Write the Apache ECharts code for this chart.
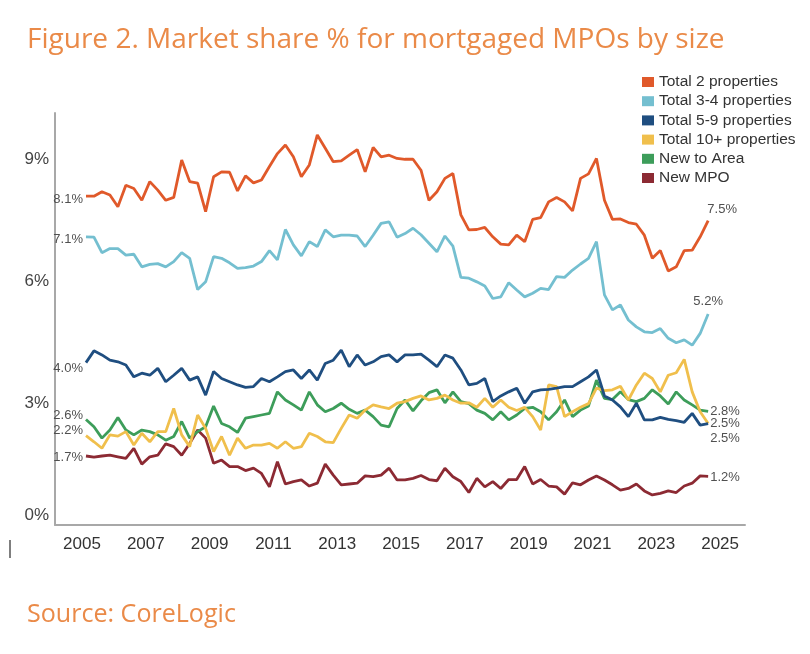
<!DOCTYPE html>
<html><head><meta charset="utf-8">
<script src="https://cdn.jsdelivr.net/npm/echarts@6/dist/echarts.min.js"></script>
<style>html,body{margin:0;padding:0;background:#fff}#c{width:810px;height:654px}</style>
</head><body><div id="c"></div>
<script>
// ---- data (quarterly, 2005 Q1 .. 2024 Q3) ----
const seriesNames = ['Total 2 properties','Total 3-4 properties','Total 5-9 properties','Total 10+ properties','New to Area','New MPO'];
const total2 = [8.1,8.10,8.21,8.13,7.84,8.37,8.29,8.00,8.46,8.25,
 8.00,8.07,8.99,8.46,8.42,7.72,8.58,8.70,8.69,8.23,
 8.60,8.43,8.50,8.83,9.15,9.36,9.07,8.58,8.87,9.61,
 9.28,8.95,8.97,9.11,9.25,8.70,9.30,9.07,9.11,9.03,
 9.01,9.01,8.74,8.00,8.21,8.54,8.66,7.64,7.27,7.28,
 7.33,7.10,6.92,6.90,7.14,6.98,7.53,7.57,7.96,8.07,
 7.96,7.74,8.54,8.65,9.03,8.00,7.53,7.54,7.45,7.41,
 7.14,6.57,6.76,6.26,6.36,6.76,6.77,7.10,7.5];
const total34 = [7.1,7.09,6.71,6.81,6.81,6.65,6.67,6.36,6.42,6.44,
 6.36,6.49,6.71,6.57,5.80,5.99,6.61,6.57,6.46,6.32,
 6.34,6.38,6.49,6.76,6.53,7.28,6.90,6.63,6.98,6.86,
 7.27,7.10,7.14,7.14,7.12,6.86,7.14,7.43,7.47,7.09,
 7.18,7.31,7.15,6.94,6.73,7.12,6.87,6.10,6.08,5.99,
 5.89,5.58,5.62,5.97,5.79,5.62,5.71,5.83,5.80,6.12,
 6.10,6.28,6.43,6.57,6.98,5.67,5.30,5.42,5.05,4.88,
 4.76,4.74,4.84,4.60,4.49,4.56,4.43,4.72,5.2];
const total59 = [4.0,4.29,4.19,4.06,4.02,3.94,3.65,3.74,3.69,3.86,
 3.53,3.69,3.86,3.57,3.65,3.20,3.78,3.61,3.53,3.45,
 3.39,3.41,3.61,3.53,3.65,3.78,3.82,3.61,3.82,3.57,
 3.98,4.06,4.31,3.90,4.19,3.94,4.02,4.15,4.19,4.02,
 4.19,4.19,4.21,4.06,3.90,4.19,4.11,3.82,3.45,3.49,
 3.61,3.04,3.18,3.28,3.37,3.00,3.28,3.33,3.34,3.37,
 3.41,3.41,3.53,3.65,3.82,3.18,3.08,2.91,2.67,3.00,
 2.59,2.59,2.65,2.60,2.57,2.53,2.75,2.46,2.5];
const total10 = [2.2,2.05,1.89,2.22,2.19,2.30,1.97,2.26,2.05,2.30,
 2.30,2.87,2.22,1.93,2.71,2.38,1.81,2.18,1.72,2.14,
 1.89,1.97,1.97,2.01,1.89,2.05,1.89,1.93,2.26,2.18,
 2.05,2.03,2.38,2.71,2.63,2.83,2.96,2.91,2.87,3.00,
 3.04,3.12,3.18,3.08,3.12,3.20,3.08,3.00,3.01,2.90,
 3.12,2.90,3.08,2.90,2.82,2.90,2.67,2.34,3.45,3.41,
 2.67,2.79,2.90,2.99,3.37,3.31,3.33,3.42,3.08,3.45,
 3.74,3.61,3.28,3.69,3.75,4.08,3.28,2.79,2.5];
const newToArea = [2.6,2.42,2.14,2.34,2.65,2.34,2.22,2.34,2.30,2.22,
 2.09,2.18,2.55,2.14,2.30,2.42,2.93,2.50,2.42,2.28,
 2.63,2.67,2.71,2.75,3.28,3.08,2.96,2.83,3.28,2.96,
 2.79,2.87,3.00,2.85,2.75,2.83,2.67,2.46,2.42,2.87,
 3.08,2.81,3.06,3.26,3.33,3.01,3.28,3.04,2.99,2.83,
 2.75,2.59,2.79,2.59,2.71,2.87,2.90,2.79,2.59,2.79,
 3.08,2.67,2.83,2.93,3.57,3.12,3.09,3.28,3.09,3.04,
 3.12,3.33,3.18,2.98,3.28,3.08,2.96,2.83,2.8];
const newMPO = [1.7,1.67,1.70,1.72,1.68,1.64,1.89,1.50,1.68,1.72,
 2.00,1.93,1.72,2.01,2.34,2.14,1.52,1.60,1.44,1.44,
 1.34,1.40,1.27,0.94,1.56,1.01,1.07,1.11,0.96,1.03,
 1.50,1.23,0.99,1.01,1.03,1.21,1.19,1.23,1.40,1.11,
 1.11,1.15,1.22,1.12,1.09,1.40,1.19,1.07,0.80,1.15,
 0.94,1.07,0.90,1.12,1.12,1.44,1.01,1.12,0.96,0.94,
 0.76,1.04,0.99,1.11,1.21,1.11,0.99,0.86,0.90,1.01,
 0.84,0.74,0.78,0.84,0.80,0.96,1.03,1.21,1.2];
const yearTicks = [2005,2007,2009,2011,2013,2015,2017,2019,2021,2023,2025];
const pctTicks = [0,3,6,9];
// quarter positions (mid-quarter, in years)
const quarters = [];
for (let y = 2005; y <= 2024; y++) for (let q = 1; q <= 4; q++) quarters.push(y + (q - 0.5) / 4);
quarters.length = total2.length;

// ---- styling ----
const colors = ['#E0592A','#74BFD0','#1F4E80','#F0BF4C','#3D9D5A','#8C2A33'];
const allValues = [total2,total34,total59,total10,newToArea,newMPO];
const startOffset = [[0,3],[0,3],[0,6],[0,-5],[0,-4],[0,1]];
const endLabel = [
  {position:'top', distance:5, offset:[14,0]},
  {position:'top', distance:6, offset:[0,0]},
  {position:'right', distance:2, offset:[0,0]},
  {position:'right', distance:2, offset:[0,15]},
  {position:'right', distance:2, offset:[0,0]},
  {position:'right', distance:2, offset:[0,1]}
];

const sans = '"Liberation Sans", Arial, sans-serif';
const tickFont = sans;
const tickSize = 17;
const titleFont = '"Open Sans", sans-serif';
function fitSize(text, font, target){
  const c = document.createElement('canvas').getContext('2d');
  c.font = '100px ' + font; return 100 * target / c.measureText(text).width;
}
const titleText = 'Figure 2. Market share % for mortgaged MPOs by size';
const titleSize = fitSize(titleText, titleFont, 698);
const sourceText = 'Source: CoreLogic';
const sourceSize = fitSize(sourceText, titleFont, 209);

const labelStyle = {color:'#505050', fontSize:13, fontFamily:sans};
const series = allValues.map((vals, s) => ({
  name: seriesNames[s], type:'line', color: colors[s],
  symbol:'circle', symbolSize:0, showSymbol:true,
  lineStyle:{width:2.8, color: colors[s]},
  itemStyle:{color: colors[s]},
  label:{show:false},
  emphasis:{disabled:true},
  z: 10 - s,
  data: vals.map((v, i) => {
    const d = {value:[quarters[i], v]};
    if (i === 0) d.label = Object.assign({show:true, position:'left', distance:3, offset:startOffset[s], formatter: p => p.value[1].toFixed(1)+'%'}, labelStyle);
    if (i === vals.length-1) d.label = Object.assign({show:true, formatter: p => p.value[1].toFixed(1)+'%'}, endLabel[s], labelStyle);
    return d;
  })
}));

const chart = echarts.init(document.getElementById('c'), null, {renderer:'canvas'});
chart.setOption({
  animation:false,
  backgroundColor:'#fff',
  grid:{left:55, right:65, top:113, bottom:129, containLabel:false, outerBoundsMode:'none'},
  legend:{
    orient:'vertical', left:637, top:69, icon:'rect', itemWidth:12, itemHeight:10, itemGap:3.2,
    textStyle:{color:'#333', fontSize:15.5, lineHeight:15, fontFamily:sans},
    data: seriesNames, selectedMode:false
  },
  xAxis:{
    type:'value', min:2004.154, max:2025.78,
    axisLine:{show:true, lineStyle:{color:'#A8A8A8', width:2}},
    axisTick:{show:false}, splitLine:{show:false},
    axisLabel:{customValues: yearTicks, formatter: v => String(v), color:'#333', fontSize:tickSize, fontFamily:tickFont, margin:11}
  },
  yAxis:{
    type:'value', min:0, max:10.15,
    axisLine:{show:true, lineStyle:{color:'#A8A8A8', width:2}},
    axisTick:{show:false}, splitLine:{show:false},
    axisLabel:{customValues: pctTicks, color:'#444', fontSize:tickSize, fontFamily:tickFont, margin:6,
      formatter: v => v === 0 ? '{z|0%}' : v + '%',
      rich:{z:{color:'#444', fontSize:tickSize, fontFamily:tickFont, padding:[0,0,20,0]}}}
  },
  graphic:[
    {type:'text', x:27, y:40, style:{text:titleText, fill:'#EA8A48', fontSize:titleSize, fontFamily:titleFont, verticalAlign:'middle'}},
    {type:'text', x:27, y:615, style:{text:sourceText, fill:'#EA8A48', fontSize:sourceSize, fontFamily:titleFont, verticalAlign:'middle'}},
    {type:'line', shape:{x1:10, y1:540, x2:10, y2:558}, style:{stroke:'#555', lineWidth:1.5}}
  ],
  series: series
});
</script></body></html>
